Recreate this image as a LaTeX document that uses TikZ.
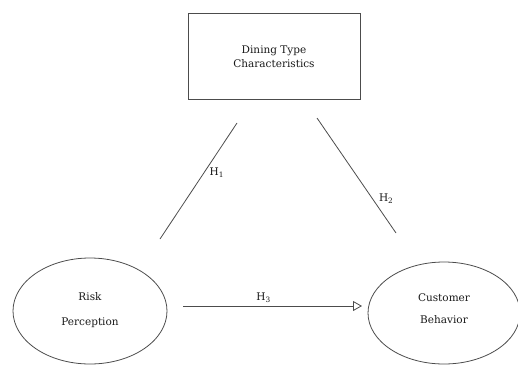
\documentclass[tikz,border=0pt]{standalone}
\usepackage{fontspec}
\setmainfont{DejaVu Serif}
\usetikzlibrary{shapes.geometric,arrows.meta}
\begin{document}
\begin{tikzpicture}[x=1pt,y=1pt,
  lbl/.style={font=\fontsize{10.5}{12}\selectfont, text=black!90, align=center},
  lin/.style={draw=black!70, line width=0.8pt},
  ell/.style={ellipse, lin, minimum width=154pt, minimum height=106pt}]
\useasboundingbox (0,0) rectangle (518,365);
\node[lin, rectangle, minimum width=172pt, minimum height=86pt] (dt) at (274,309) {};
\node[lbl] at (274,314) {Dining Type};
\node[lbl] at (274,301) {Characteristics};
\node[ell] (rp) at (90,54) {};
\node[lbl] at (90,68) {Risk};
\node[lbl] at (90,42) {Perception};
\node[ell, minimum width=152pt, minimum height=102pt] (cb) at (444,52) {};
\node[lbl] at (444,67) {Customer};
\node[lbl] at (444,45) {Behavior};
\coordinate (a1) at (237,242);
\coordinate (a2) at (160,126);
\coordinate (b1) at (317,247);
\coordinate (b2) at (396,132);
\coordinate (c1) at (183,59);
\coordinate (c2) at (362,59);
\draw[lin] (a1) -- (a2) node[lbl, pos=0.43, right=2pt] {H\textsubscript{1}};
\draw[lin] (b1) -- (b2) node[lbl, pos=0.7, right=3pt] {H\textsubscript{2}};
\draw[lin, -{Triangle[open, length=9pt, width=10pt]}] (c1) -- (c2) node[lbl, pos=0.45, above=0pt] {H\textsubscript{3}};
\end{tikzpicture}
\end{document}
